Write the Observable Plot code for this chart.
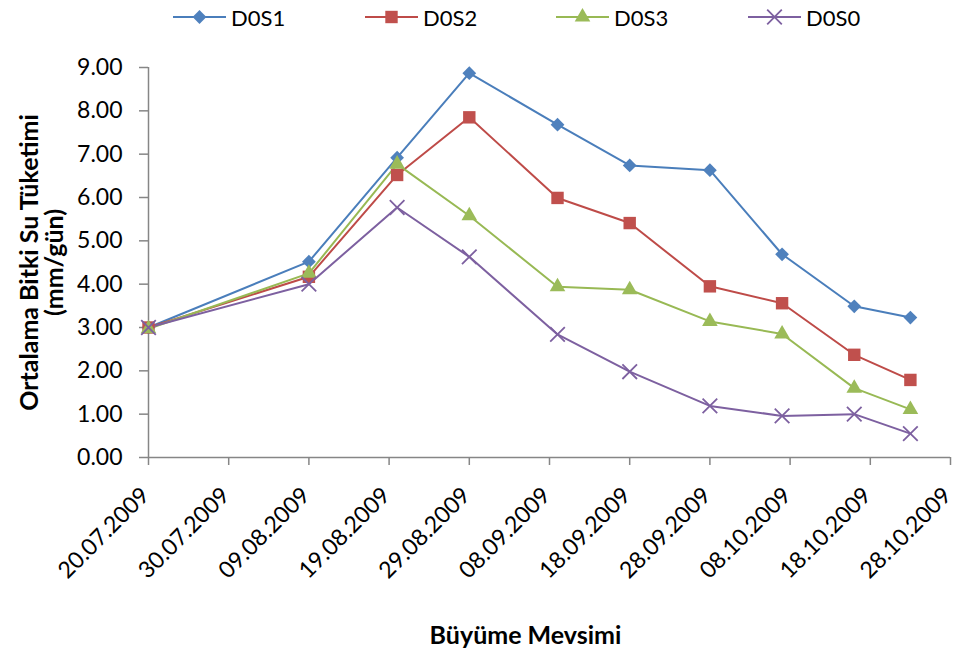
<!DOCTYPE html>
<html>
<head>
<meta charset="utf-8">
<script src="https://cdn.jsdelivr.net/npm/d3@7"></script>
<script src="https://cdn.jsdelivr.net/npm/@observablehq/plot@0.6"></script>
<style>
  body { margin: 0; background: #fff; font-family: Lato, sans-serif; }
  #wrap { position: relative; width: 957px; height: 655px; }
  #legend { position: absolute; left: 0; top: 0; width: 957px; height: 34px; }
  #plot { position: absolute; left: 0; top: 34px; }
  .item { position: absolute; top: 4px; height: 26px; display: flex; align-items: center; font-size: 22px; color: #000; }
  .item svg { margin-right: 5px; }
</style>
</head>
<body>
<div id="wrap">
  <div id="legend"></div>
  <div id="plot"></div>
</div>
<script>
// ---- data ----
const dates = ["2009-07-20","2009-08-09","2009-08-20","2009-08-29","2009-09-09","2009-09-18","2009-09-28","2009-10-07","2009-10-16","2009-10-23"];
const seriesNames = ["D0S1", "D0S2", "D0S3", "D0S0"];
const D0S1 = [3.00, 4.52, 6.92, 8.87, 7.68, 6.74, 6.63, 4.69, 3.49, 3.23];
const D0S2 = [3.00, 4.17, 6.52, 7.85, 5.99, 5.41, 3.95, 3.56, 2.37, 1.79];
const D0S3 = [2.97, 4.25, 6.77, 5.58, 3.94, 3.87, 3.14, 2.85, 1.60, 1.11];
const D0S0 = [3.00, 4.00, 5.77, 4.63, 2.84, 1.98, 1.19, 0.96, 1.00, 0.55];
const xTickLabels = ["20.07.2009","30.07.2009","09.08.2009","19.08.2009","29.08.2009","08.09.2009","18.09.2009","28.09.2009","08.10.2009","18.10.2009","28.10.2009"];
const yTicks = [0, 1, 2, 3, 4, 5, 6, 7, 8, 9];
const xTitle = "Büyüme Mevsimi";
const yTitle = "Ortalama Bitki Su Tüketimi\n(mm/gün)";

// ---- styling ----
const colors = {D0S1: "#4A7EBB", D0S2: "#BE4B48", D0S3: "#98B954", D0S0: "#7D60A0"};
const markFill = {D0S1: "#4F81BD", D0S2: "#C0504D", D0S3: "#9BBB59", D0S0: "none"};
const symbols = {D0S1: "diamond2", D0S2: "square", D0S3: "triangle", D0S0: "times"};
const radii = {D0S1: 6.2, D0S2: 7, D0S3: 5.8, D0S0: 6.7};

const parse = d3.utcParse("%d.%m.%Y");
const parseISO = d3.utcParse("%Y-%m-%d");
const tickDates = xTickLabels.map(parse);
const valuesBy = {D0S1, D0S2, D0S3, D0S0};
const rows = [];
for (const s of seriesNames) {
  valuesBy[s].forEach((v, i) => rows.push({series: s, date: parseISO(dates[i]), value: v}));
}

const axisGray = "#868686";
const marks = [
  Plot.ruleY([0], {stroke: axisGray, strokeWidth: 1.5}),
  Plot.ruleX([tickDates[0]], {y1: 0, y2: 9, stroke: axisGray, strokeWidth: 1.5}),
  Plot.axisY({ticks: yTicks, tickFormat: d => d.toFixed(2), tickSize: 9, tickPadding: 17, stroke: axisGray, strokeWidth: 1.5, fill: "#000", fontSize: 23, label: null}),
  // x tick marks
  Plot.axisX({ticks: tickDates, tickFormat: () => "", tickSize: 8, stroke: axisGray, strokeWidth: 1.5, label: null}),
  // x tick labels
  Plot.axisX({ticks: tickDates, tickFormat: d3.utcFormat("%d.%m.%Y"), tickSize: 0, tickPadding: 34, tickRotate: -45, dx: -3, fill: "#000", fontSize: 23, label: null}),
  Plot.line(rows, {x: "date", y: "value", z: "series", stroke: d => colors[d.series], strokeWidth: 2})
];
for (const s of seriesNames) {
  const data = rows.filter(d => d.series === s);
  if (s === "D0S0") {
    marks.push(Plot.dot(data, {x: "date", y: "value", symbol: symbols[s], r: radii[s], stroke: colors[s], strokeWidth: 1.8, fill: "none"}));
  } else {
    marks.push(Plot.dot(data, {x: "date", y: "value", symbol: symbols[s], r: radii[s], fill: markFill[s], stroke: "none"}));
  }
}
marks.push(Plot.text([xTitle], {frameAnchor: "bottom", textAnchor: "middle", lineAnchor: "middle", dx: -24, dy: 178, fontWeight: "bold", fontSize: 25, fill: "#000"}));
marks.push(Plot.text([yTitle], {frameAnchor: "left", textAnchor: "middle", lineAnchor: "middle", dx: -106, rotate: -90, fontWeight: "bold", fontSize: 25, lineHeight: 1.0, fill: "#000"}));

const chart = Plot.plot({
  width: 957,
  height: 621,
  marginTop: 33,
  marginBottom: 198,
  marginLeft: 148,
  marginRight: 7,
  style: {fontFamily: "Lato, sans-serif", background: "#fff", overflow: "visible"},
  x: {type: "utc", domain: [tickDates[0], tickDates[tickDates.length - 1]]},
  y: {domain: [0, 9]},
  marks
});
document.getElementById("plot").appendChild(chart);

// ---- legend ----
const legendX = {D0S1: 173, D0S2: 365, D0S3: 556, D0S0: 748};
const legend = d3.select("#legend");
for (const s of seriesNames) {
  const item = legend.append("div").attr("class", "item").style("left", legendX[s] + "px");
  const svg = item.append("svg").attr("width", 53).attr("height", 20);
  svg.append("line").attr("x1", 0).attr("x2", 53).attr("y1", 10).attr("y2", 10).attr("stroke", colors[s]).attr("stroke-width", 2);
  const sym = {diamond2: d3.symbolDiamond2, square: d3.symbolSquare, triangle: d3.symbolTriangle, times: d3.symbolTimes}[symbols[s]];
  const size = Math.PI * radii[s] * radii[s];
  const p = svg.append("path").attr("transform", "translate(26.5,10)").attr("d", d3.symbol(sym, size)());
  if (s === "D0S0") p.attr("fill", "none").attr("stroke", colors[s]).attr("stroke-width", 1.8);
  else p.attr("fill", markFill[s]);
  item.append("span").text(s);
}
</script>
</body>
</html>
